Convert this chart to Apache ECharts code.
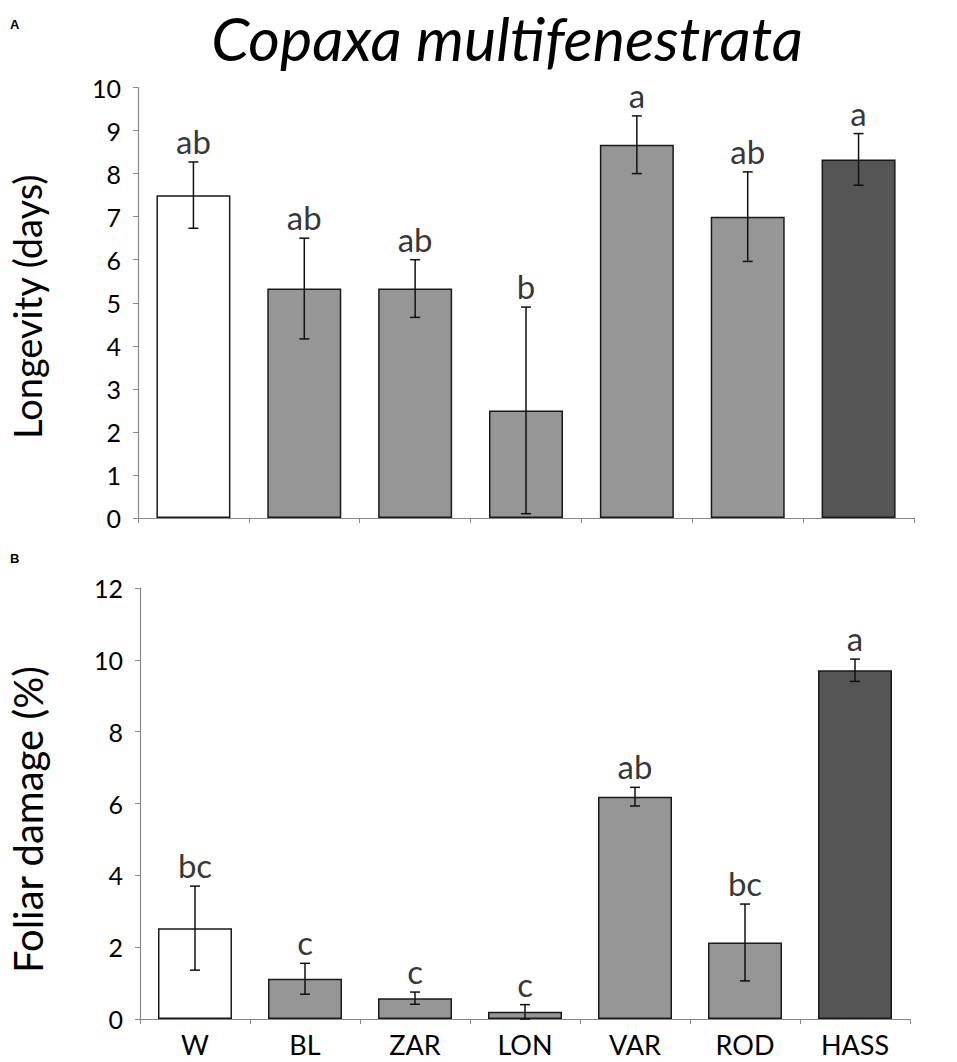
<!DOCTYPE html>
<html>
<head>
<meta charset="utf-8">
<script src="https://cdn.jsdelivr.net/npm/echarts@6/dist/echarts.min.js"></script>
<style>
  html, body { margin: 0; padding: 0; background: #fff; }
  #chart { width: 957px; height: 1062px; }
</style>
</head>
<body>
<div id="chart"></div>
<script>
// categories (cultivars)
var categories = ['W', 'BL', 'ZAR', 'LON', 'VAR', 'ROD', 'HASS'];

// A - longevity (days)
var longevity    = [7.5, 5.33, 5.33, 2.5, 8.67, 7.0, 8.33];
var longevityErr = [0.77, 1.17, 0.67, 2.4, 0.67, 1.04, 0.6];
var longevityLetters = ['ab', 'ab', 'ab', 'b', 'a', 'ab', 'a'];
var longevityTicks = [0, 1, 2, 3, 4, 5, 6, 7, 8, 9, 10];

// B - foliar damage (%)
var damage    = [2.53, 1.12, 0.58, 0.2, 6.19, 2.13, 9.71];
var damageErr = [1.17, 0.43, 0.17, 0.2, 0.26, 1.07, 0.31];
var damageLetters = ['bc', 'c', 'c', 'c', 'ab', 'bc', 'a'];
var damageTicks = [0, 2, 4, 6, 8, 10, 12];

// bar fills
var barColors = ['#ffffff', '#969696', '#969696', '#969696', '#969696', '#969696', '#555555'];

var FONT = 'Lato, "Open Sans", sans-serif';

//柱子数据
function barData(vals) {
    var res = [];
    for (var i = 0; i < vals.length; i++) {
        res.push({
            value: vals[i],
            itemStyle: { color: barColors[i], borderColor: '#1a1a1a', borderWidth: 1.5 }
        });
    }
    return res;
}

//误差线数据
function errData(vals, errs) {
    var res = [];
    for (var i = 0; i < vals.length; i++) {
        res.push([i, vals[i], errs[i]]);
    }
    return res;
}

//字母标注数据
function letterData(vals, errs, letters) {
    var res = [];
    for (var i = 0; i < vals.length; i++) {
        res.push({ value: [i, vals[i] + errs[i]], letter: letters[i] });
    }
    return res;
}

//画误差线
function renderErr(params, api) {
    var x = api.value(0), v = api.value(1), e = api.value(2);
    var hi = api.coord([x, v + e]);
    var lo = api.coord([x, Math.max(v - e, 0)]);
    var w = 5;
    var st = { stroke: '#111', lineWidth: 1.5 };
    return {
        type: 'group',
        children: [
            { type: 'line', shape: { x1: hi[0], y1: hi[1], x2: lo[0], y2: lo[1] }, style: st },
            { type: 'line', shape: { x1: hi[0] - w, y1: hi[1], x2: hi[0] + w, y2: hi[1] }, style: st },
            { type: 'line', shape: { x1: lo[0] - w, y1: lo[1], x2: lo[0] + w, y2: lo[1] }, style: st }
        ]
    };
}

function yAxisOf(idx, ticks, name, nameSize, namePad) {
    return {
        type: 'value',
        gridIndex: idx,
        min: ticks[0],
        max: ticks[ticks.length - 1],
        interval: ticks[1] - ticks[0],
        name: name,
        nameLocation: 'middle',
        nameGap: 92,
        nameTextStyle: { fontFamily: FONT, fontSize: nameSize, color: '#000', padding: namePad },
        splitLine: { show: false },
        axisLine: { show: true, lineStyle: { color: '#888', width: 1.2 } },
        axisTick: { show: true, length: 5, lineStyle: { color: '#888' } },
        axisLabel: { fontFamily: FONT, fontSize: 25, color: '#000', margin: 17 }
    };
}

function xAxisOf(idx, showLabels) {
    return {
        type: 'category',
        gridIndex: idx,
        data: categories,
        axisLine: { show: true, lineStyle: { color: '#888', width: 1.2 } },
        axisTick: { show: true, length: 5, lineStyle: { color: '#888' } },
        axisLabel: { show: showLabels, fontFamily: FONT, fontSize: 27, color: '#000', margin: 12 }
    };
}

function letterLabel() {
    return {
        show: true, position: 'top', distance: 6, fontFamily: FONT, fontSize: 33, color: '#000',
        lineHeight: 30,
        formatter: function (p) { return p.data.letter; }
    };
}

var myChart = echarts.init(document.getElementById('chart'), null, { renderer: 'svg' });

var option = {
    backgroundColor: '#fff',
    animation: false,
    graphic: [
        { type: 'text', x: 507, y: 7, style: { text: 'Copaxa multifenestrata', font: 'italic 61px ' + FONT, lineHeight: 61, fill: '#000', textAlign: 'center', textVerticalAlign: 'top' } },
        { type: 'text', x: 10, y: 18, style: { text: 'A', font: 'bold 13px "Liberation Sans", Arial, sans-serif', fill: '#000' } },
        { type: 'text', x: 10, y: 552, style: { text: 'B', font: 'bold 13px "Liberation Sans", Arial, sans-serif', fill: '#000' } }
    ],
    grid: [
        { left: 137, right: 43, top: 87.5, height: 430.5 },
        { left: 133, right: 47, top: 588, height: 431 }
    ],
    xAxis: [xAxisOf(0, false), xAxisOf(1, true)],
    yAxis: [
        yAxisOf(0, longevityTicks, 'Longevity (days)', 38, [0, 8, 0, 0]),
        yAxisOf(1, damageTicks, 'Foliar damage (%)', 40, [0, 32, 0, 0])
    ],
    series: [
        { type: 'bar', xAxisIndex: 0, yAxisIndex: 0, barWidth: 74, data: barData(longevity) },
        { type: 'custom', xAxisIndex: 0, yAxisIndex: 0, renderItem: renderErr, data: errData(longevity, longevityErr), z: 5 },
        {
            type: 'scatter', xAxisIndex: 0, yAxisIndex: 0, symbolSize: 0,
            data: letterData(longevity, longevityErr, longevityLetters), label: letterLabel()
        },
        { type: 'bar', xAxisIndex: 1, yAxisIndex: 1, barWidth: 74, data: barData(damage) },
        { type: 'custom', xAxisIndex: 1, yAxisIndex: 1, renderItem: renderErr, data: errData(damage, damageErr), z: 5 },
        {
            type: 'scatter', xAxisIndex: 1, yAxisIndex: 1, symbolSize: 0,
            data: letterData(damage, damageErr, damageLetters), label: letterLabel()
        }
    ]
};
myChart.setOption(option);
</script>
</body>
</html>
